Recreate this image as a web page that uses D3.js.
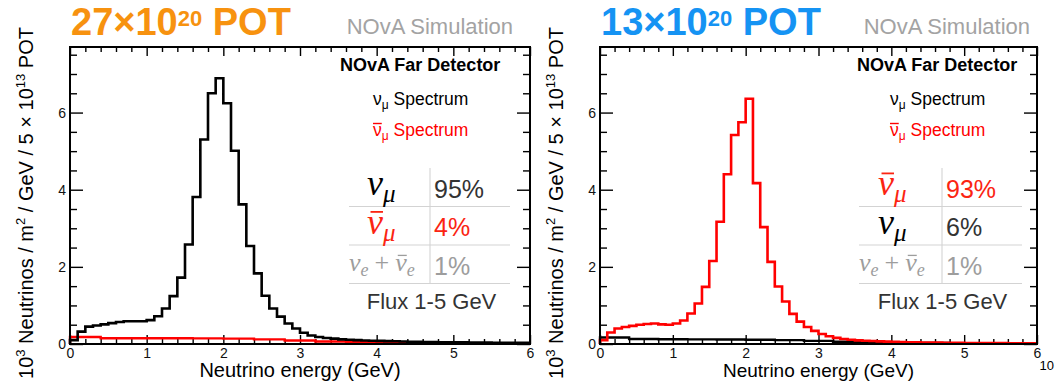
<!DOCTYPE html>
<html>
<head>
<meta charset="utf-8">
<script src="https://cdn.jsdelivr.net/npm/d3@7"></script>
<style>
  body { margin: 0; background: #fff; }
  svg { display: block; }
  text { font-family: "Liberation Sans", Arial, sans-serif; }
</style>
</head>
<body>
<svg id="chart" width="1060" height="383"></svg>
<script>
// ---- data -------------------------------------------------------------
// Energy axis (GeV) tick labels and flux axis tick labels
const energyTicks = [0, 1, 2, 3, 4, 5, 6];
const fluxTicks = [0, 2, 4, 6];

// Histogram bin widths (GeV)
const fineBinWidth = 0.1;
const coarseBinWidth = 0.4;

// Neutrino-mode beam (FHC): nu_mu flux, 0.1 GeV bins from 0 to 6 GeV
const numuFHC = [
  0.10, 0.32, 0.45, 0.48, 0.51, 0.54, 0.57, 0.59, 0.59, 0.59,
  0.62, 0.72, 0.92, 1.24, 1.72, 2.58, 3.81, 5.30, 6.50, 6.89,
  6.24, 5.01, 3.62, 2.54, 1.83, 1.25, 0.92, 0.71, 0.53, 0.40,
  0.29, 0.22, 0.18, 0.155, 0.14, 0.12, 0.11, 0.10, 0.09, 0.085,
  0.08, 0.075, 0.07, 0.065, 0.06, 0.056, 0.053, 0.05, 0.047, 0.045,
  0.043, 0.041, 0.039, 0.037, 0.035, 0.034, 0.033, 0.032, 0.031, 0.03
];
// FHC: anti-nu_mu contamination, 0.4 GeV bins
const numubarFHC = [0.18, 0.15, 0.15, 0.148, 0.145, 0.14, 0.12, 0.09, 0.065, 0.045, 0.03, 0.022, 0.016, 0.012, 0.01];

// Antineutrino-mode beam (RHC): anti-nu_mu flux, 0.1 GeV bins
const numubarRHC = [
  0.10, 0.30, 0.40, 0.44, 0.47, 0.50, 0.52, 0.53, 0.51, 0.50,
  0.53, 0.61, 0.79, 1.05, 1.48, 2.15, 3.17, 4.40, 5.42, 5.75,
  6.36, 4.17, 3.03, 2.13, 1.49, 1.10, 0.78, 0.58, 0.44, 0.34,
  0.26, 0.20, 0.16, 0.13, 0.11, 0.095, 0.085, 0.076, 0.068, 0.062,
  0.056, 0.051, 0.047, 0.043, 0.04, 0.037, 0.035, 0.033, 0.031, 0.029,
  0.027, 0.026, 0.025, 0.024, 0.023, 0.022, 0.021, 0.02, 0.02, 0.019
];
// RHC: nu_mu contamination, 0.4 GeV bins
const numuRHC = [0.17, 0.13, 0.125, 0.12, 0.115, 0.11, 0.10, 0.08, 0.06, 0.045, 0.032, 0.024, 0.018, 0.014, 0.012];

// Flux composition 1-5 GeV
const fhcFlavours = ["numu", "numubar", "nue"];
const fhcShares = [95, 4, 1];
const rhcFlavours = ["numubar", "numu", "nue"];
const rhcShares = [93, 6, 1];

// Exposure labels
const potMantissa = ["27", "13"];

// ---- styling ----------------------------------------------------------
const RED = "#ff0000";
const TABLE_RED = "#fb2412";
const GRAY = "#9d9d9d";
const DARK = "#333333";
const flavourColor = { numu: "#000", numubar: TABLE_RED, nue: GRAY };
const shareColor = { numu: DARK, numubar: TABLE_RED, nue: GRAY };

const svg = d3.select("#chart");
const yTop = 47, yBottom = 344;

function histPoints(values, width) {
  const pts = [[0, 0]];
  values.forEach((v, i) => pts.push([i * width, v]));
  pts.push([values.length * width, values[values.length - 1]]);
  return pts;
}

function minorTicks(max, step, majors) {
  const out = [];
  for (let k = 1; k * step < max - 1e-9; k++) {
    const v = +(k * step).toFixed(3);
    if (!majors.some(m => Math.abs(m - v) < 1e-9)) out.push(v);
  }
  return out;
}

// Greek nu with subscript (and optional bar), serif italic, for the table
function drawNu(g, x, base, size, sub, subSize, color, bar) {
  const t = g.append("text")
    .attr("x", x).attr("y", base)
    .attr("fill", color)
    .style("font-family", "'Liberation Serif', 'DejaVu Serif', serif")
    .style("font-style", "italic")
    .style("font-size", size + "px");
  t.append("tspan").text("ν");
  t.append("tspan").attr("dy", size * 0.2).style("font-size", subSize + "px").text(sub);
  const node = t.node();
  const ext = node.getExtentOfChar(0);
  if (bar) {
    g.append("line")
      .attr("x1", ext.x + ext.width * 0.22).attr("x2", ext.x + ext.width * 1.0)
      .attr("y1", base - size * 0.6).attr("y2", base - size * 0.6)
      .attr("stroke", color).attr("stroke-width", Math.max(1.2, size * 0.05));
  }
  return node.getBBox();
}

function drawPanel(cfg) {
  const g = svg.append("g");
  const x = d3.scaleLinear().domain([0, 6]).range([cfg.x0, cfg.x1]);
  const y = d3.scaleLinear().domain([0, 7.7]).range([yBottom, yTop]);

  const xMinor = minorTicks(6, 0.2, energyTicks);
  const yMinor = minorTicks(7.7, 0.5, fluxTicks);

  const styleAxis = sel => {
    sel.select(".domain").remove();
    sel.selectAll(".tick line").attr("stroke", "#000").attr("stroke-width", 1.4);
    sel.selectAll(".tick text")
      .attr("fill", "#111")
      .style("font-family", "'Liberation Sans', Arial, sans-serif")
      .style("font-size", "14px");
  };

  // bottom axis
  g.append("g").attr("transform", `translate(0,${yBottom})`)
    .call(d3.axisBottom(x).tickValues(energyTicks).tickSize(-9).tickPadding(4).tickFormat(d3.format("d")))
    .call(styleAxis);
  g.append("g").attr("transform", `translate(0,${yBottom})`)
    .call(d3.axisBottom(x).tickValues(xMinor).tickSize(-5).tickFormat(""))
    .call(styleAxis);
  // top axis
  g.append("g").attr("transform", `translate(0,${yTop})`)
    .call(d3.axisTop(x).tickValues(energyTicks).tickSize(-9).tickFormat(""))
    .call(styleAxis);
  g.append("g").attr("transform", `translate(0,${yTop})`)
    .call(d3.axisTop(x).tickValues(xMinor).tickSize(-5).tickFormat(""))
    .call(styleAxis);
  // left axis
  g.append("g").attr("transform", `translate(${cfg.x0},0)`)
    .call(d3.axisLeft(y).tickValues(fluxTicks).tickSize(-13).tickPadding(4).tickFormat(d3.format("d")))
    .call(styleAxis);
  g.append("g").attr("transform", `translate(${cfg.x0},0)`)
    .call(d3.axisLeft(y).tickValues(yMinor).tickSize(-7).tickFormat(""))
    .call(styleAxis);
  // right axis
  g.append("g").attr("transform", `translate(${cfg.x1},0)`)
    .call(d3.axisRight(y).tickValues(fluxTicks).tickSize(-13).tickFormat(""))
    .call(styleAxis);
  g.append("g").attr("transform", `translate(${cfg.x1},0)`)
    .call(d3.axisRight(y).tickValues(yMinor).tickSize(-7).tickFormat(""))
    .call(styleAxis);

  // histograms: contamination first, main flux on top
  const line = d3.line().x(d => x(d[0])).y(d => y(d[1])).curve(d3.curveStepAfter);
  g.append("path")
    .attr("d", line(histPoints(cfg.minor, coarseBinWidth)))
    .attr("fill", "none").attr("stroke", cfg.minorColor).attr("stroke-width", 2.4);
  g.append("path")
    .attr("d", line(histPoints(cfg.main, fineBinWidth)))
    .attr("fill", "none").attr("stroke", cfg.mainColor).attr("stroke-width", 2.6)
    .attr("stroke-linejoin", "miter");

  // frame
  g.append("rect")
    .attr("x", cfg.x0).attr("y", yTop)
    .attr("width", cfg.x1 - cfg.x0).attr("height", yBottom - yTop)
    .attr("fill", "none").attr("stroke", "#000").attr("stroke-width", 2);

  // axis titles
  g.append("text")
    .attr("x", (cfg.x0 + cfg.x1) / 2).attr("y", 377)
    .attr("text-anchor", "middle")
    .style("font-size", cfg.xTitleSize + "px").attr("fill", "#000")
    .text("Neutrino energy (GeV)");

  const yt = g.append("text")
    .attr("transform", `translate(${cfg.x0 - 37},203) rotate(-90)`)
    .attr("text-anchor", "middle")
    .style("font-size", "20px").attr("fill", "#000");
  yt.append("tspan").text("10");
  yt.append("tspan").attr("dy", -8).style("font-size", "13px").text("3");
  yt.append("tspan").attr("dy", 8).text(" Neutrinos / m");
  yt.append("tspan").attr("dy", -8).style("font-size", "13px").text("2");
  yt.append("tspan").attr("dy", 8).text(" / GeV / 5 × 10");
  yt.append("tspan").attr("dy", -8).style("font-size", "13px").text("13");
  yt.append("tspan").attr("dy", 8).text(" POT");

  // exposure title
  const tt = g.append("text")
    .attr("x", cfg.titleX).attr("y", 35)
    .attr("fill", cfg.titleColor)
    .style("font-size", "38px").style("font-weight", "bold");
  tt.append("tspan").text(cfg.pot + "×10");
  tt.append("tspan").attr("dy", -9).style("font-size", "22px").text("20");
  tt.append("tspan").attr("dy", 9).text(" POT");

  g.append("text")
    .attr("x", cfg.simX).attr("y", 34)
    .attr("text-anchor", "end")
    .attr("fill", "#a3a3a3").style("font-size", "22px")
    .text("NOvA Simulation");

  // legend
  g.append("text")
    .attr("x", cfg.legX).attr("y", 71)
    .style("font-size", "18px").style("font-weight", "bold").attr("fill", "#000")
    .text("NOvA Far Detector");

  const legendRow = (yb, color, bar) => {
    const t = g.append("text").attr("x", cfg.legX + 33).attr("y", yb)
      .attr("fill", color).style("font-size", "17.5px");
    t.append("tspan").text("ν");
    t.append("tspan").attr("dy", 4).style("font-size", "12px").text("μ");
    t.append("tspan").attr("dy", -4).text(" Spectrum");
    if (bar) {
      const e = t.node().getExtentOfChar(0);
      g.append("line")
        .attr("x1", e.x).attr("x2", e.x + e.width)
        .attr("y1", yb - 12.5).attr("y2", yb - 12.5)
        .attr("stroke", color).attr("stroke-width", 1.4);
    }
  };
  legendRow(105, "#000", false);
  legendRow(136, RED, true);

  // composition table
  const tx0 = cfg.tabX0, tDiv = cfg.tabDiv, tx1 = cfg.tabX1;
  const rowTop = 168, rowH = 38.5;
  g.append("line").attr("x1", tDiv).attr("x2", tDiv)
    .attr("y1", rowTop).attr("y2", rowTop + 3 * rowH)
    .attr("stroke", "#cfcfcf").attr("stroke-width", 1);
  [1, 2, 3].forEach(k => {
    g.append("line").attr("x1", tx0).attr("x2", tx1)
      .attr("y1", rowTop + k * rowH).attr("y2", rowTop + k * rowH)
      .attr("stroke", "#d3d3d3").attr("stroke-width", 1);
  });

  cfg.flavours.forEach((f, i) => {
    const top = rowTop + i * rowH;
    if (f === "nue") {
      const base = top + 26;
      const b1 = drawNu(g, tx0, base, 26, "e", 18, GRAY, false);
      const plus = g.append("text").attr("x", b1.x + b1.width + 6).attr("y", base)
        .attr("fill", GRAY)
        .style("font-family", "'Liberation Serif', 'DejaVu Serif', serif")
        .style("font-size", "26px").text("+");
      const pb = plus.node().getBBox();
      drawNu(g, pb.x + pb.width + 6, base, 26, "e", 18, GRAY, true);
    } else {
      drawNu(g, cfg.nuX, top + 27, 36, "μ", 25, flavourColor[f], f === "numubar");
    }
    g.append("text")
      .attr("x", tDiv + 4).attr("y", top + 29.5)
      .attr("fill", shareColor[f]).style("font-size", "25px")
      .text(cfg.shares[i] + "%");
  });

  g.append("text")
    .attr("x", (tx0 + tx1) / 2 + 2).attr("y", 309)
    .attr("text-anchor", "middle")
    .attr("fill", DARK).style("font-size", "22px")
    .text("Flux 1-5 GeV");
}

drawPanel({
  x0: 70, x1: 530,
  main: numuFHC, mainColor: "#000",
  minor: numubarFHC, minorColor: RED,
  pot: potMantissa[0], titleColor: "#f7920f", titleX: 71, simX: 513,
  legX: 340, xTitleSize: 20,
  tabX0: 349, tabDiv: 430, tabX1: 510, nuX: 367,
  flavours: fhcFlavours, shares: fhcShares
});

drawPanel({
  x0: 600, x1: 1037,
  main: numubarRHC, mainColor: RED,
  minor: numuRHC, minorColor: "#000",
  pot: potMantissa[1], titleColor: "#1593f3", titleX: 601, simX: 1030,
  legX: 857, xTitleSize: 19,
  tabX0: 859, tabDiv: 942, tabX1: 1022, nuX: 878,
  flavours: rhcFlavours, shares: rhcShares
});

// slide page number
svg.append("text").attr("x", 1054).attr("y", 370).attr("text-anchor", "end")
  .style("font-size", "13px").attr("fill", "#000").text("10");
</script>
</body>
</html>
